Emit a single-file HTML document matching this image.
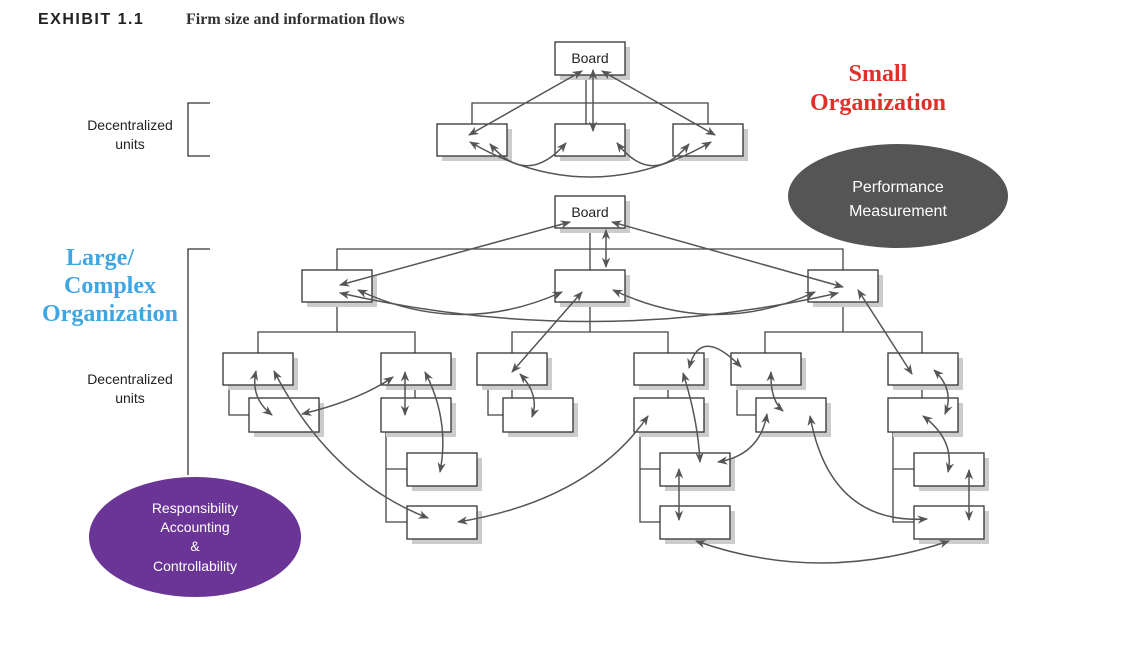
<!DOCTYPE html>
<html><head><meta charset="utf-8"><style>
body{margin:0;background:#fff;width:1126px;height:650px;overflow:hidden;font-family:"Liberation Sans",sans-serif}
</style></head><body>
<svg width="1126" height="650" xmlns="http://www.w3.org/2000/svg" font-family="Liberation Sans, sans-serif">
<defs>
<marker id="a" viewBox="0 0 10 10" refX="9" refY="5" markerWidth="7" markerHeight="7" orient="auto-start-reverse"><path d="M0,1 L10,5 L0,9 L3,5z" fill="#555"/></marker>
</defs>
<text x="38" y="24" font-size="16" font-weight="bold" fill="#222" letter-spacing="1.5">EXHIBIT 1.1</text>
<text x="186" y="24" font-size="16" font-weight="bold" font-family="Liberation Serif, serif" fill="#333">Firm size and information flows</text>

<g font-size="14" fill="#222" text-anchor="middle">
<text x="130" y="130">Decentralized</text><text x="130" y="149">units</text>
<text x="130" y="384">Decentralized</text><text x="130" y="403">units</text>
</g>
<g stroke="#333" stroke-width="1.3" fill="none">
<path d="M210,103 H188 V156 H210"/>
<path d="M210,249 H188 V475"/>
</g>
<g font-family="Liberation Serif, serif" font-weight="bold" font-size="24" text-anchor="middle">
<text x="878" y="81" fill="#e0302a">Small</text><text x="878" y="110" fill="#e0302a">Organization</text>
<text x="100" y="265" fill="#3ea6e3">Large/</text><text x="110" y="293" fill="#3ea6e3">Complex</text><text x="110" y="321" fill="#3ea6e3">Organization</text>
</g>
<ellipse cx="898" cy="196" rx="110" ry="52" fill="#555"/>
<text x="898" y="192" fill="#fff" font-size="16" text-anchor="middle">Performance</text>
<text x="898" y="216" fill="#fff" font-size="16" text-anchor="middle">Measurement</text>
<ellipse cx="195" cy="537" rx="106" ry="60" fill="#6a3597"/>
<g fill="#fff" font-size="14" text-anchor="middle">
<text x="195" y="513">Responsibility</text><text x="195" y="532">Accounting</text><text x="195" y="551">&amp;</text><text x="195" y="571">Controllability</text>
</g>

<g stroke="#444" stroke-width="1.3" fill="none">
<path d="M472,124 V103 H708 V124 M586,75 V124"/>
<path d="M337,270 V249 H843 V270 M590,228 V270"/>
<path d="M337,302 V332 M258,353 V332 H415 V353 M590,302 V332 M512,353 V332 H668 V353 M843,302 V332 M765,353 V332 H922 V353"/>
<path d="M229,385 V415 H249 M415,385 V398 M386,432 V522 H407 M386,469 H407 M512,385 V398 M488,385 V415 H503 M668,385 V398 M640,432 V522 H660 M640,469 H660 M737,385 V415 H756 M922,385 V398 M893,432 V522 H914 M893,469 H914"/>
</g>

<g fill="#ccc">
<rect x="560" y="47" width="70" height="33"/>
<rect x="442" y="129" width="70" height="32"/><rect x="560" y="129" width="70" height="32"/><rect x="678" y="129" width="70" height="32"/>
<rect x="560" y="201" width="70" height="32"/>
<rect x="307" y="275" width="70" height="32"/><rect x="560" y="275" width="70" height="32"/><rect x="813" y="275" width="70" height="32"/>
<rect x="228" y="358" width="70" height="32"/><rect x="386" y="358" width="70" height="32"/><rect x="482" y="358" width="70" height="32"/><rect x="639" y="358" width="70" height="32"/><rect x="736" y="358" width="70" height="32"/><rect x="893" y="358" width="70" height="32"/>
<rect x="254" y="403" width="70" height="34"/><rect x="386" y="403" width="70" height="34"/><rect x="508" y="403" width="70" height="34"/><rect x="639" y="403" width="70" height="34"/><rect x="761" y="403" width="70" height="34"/><rect x="893" y="403" width="70" height="34"/>
<rect x="412" y="458" width="70" height="33"/><rect x="665" y="458" width="70" height="33"/><rect x="919" y="458" width="70" height="33"/>
<rect x="412" y="511" width="70" height="33"/><rect x="665" y="511" width="70" height="33"/><rect x="919" y="511" width="70" height="33"/>
</g>
<g fill="#fff" stroke="#333" stroke-width="1.3">
<rect x="555" y="42" width="70" height="33"/>
<rect x="437" y="124" width="70" height="32"/><rect x="555" y="124" width="70" height="32"/><rect x="673" y="124" width="70" height="32"/>
<rect x="555" y="196" width="70" height="32"/>
<rect x="302" y="270" width="70" height="32"/><rect x="555" y="270" width="70" height="32"/><rect x="808" y="270" width="70" height="32"/>
<rect x="223" y="353" width="70" height="32"/><rect x="381" y="353" width="70" height="32"/><rect x="477" y="353" width="70" height="32"/><rect x="634" y="353" width="70" height="32"/><rect x="731" y="353" width="70" height="32"/><rect x="888" y="353" width="70" height="32"/>
<rect x="249" y="398" width="70" height="34"/><rect x="381" y="398" width="70" height="34"/><rect x="503" y="398" width="70" height="34"/><rect x="634" y="398" width="70" height="34"/><rect x="756" y="398" width="70" height="34"/><rect x="888" y="398" width="70" height="34"/>
<rect x="407" y="453" width="70" height="33"/><rect x="660" y="453" width="70" height="33"/><rect x="914" y="453" width="70" height="33"/>
<rect x="407" y="506" width="70" height="33"/><rect x="660" y="506" width="70" height="33"/><rect x="914" y="506" width="70" height="33"/>
</g>
<text x="590" y="63" font-size="14" text-anchor="middle" fill="#222">Board</text>
<text x="590" y="217" font-size="14" text-anchor="middle" fill="#222">Board</text>

<g stroke="#555" stroke-width="1.5" fill="none" marker-start="url(#a)" marker-end="url(#a)">
<path d="M582,71 L469,135"/>
<path d="M593,70 V131"/>
<path d="M602,71 L715,135"/>
<path d="M490,144 Q527,188 566,143"/>
<path d="M617,143 Q652,188 689,144"/>
<path d="M470,142 Q590,212 711,142"/>
<path d="M570,222 L340,285"/>
<path d="M612,222 L843,287"/>
<path d="M606,230 V267"/>
<path d="M358,290 Q460,338 562,292"/>
<path d="M340,293 Q590,350 838,293"/>
<path d="M613,290 Q715,338 815,292"/>
<path d="M582,292 L512,372"/>
<path d="M858,290 L912,374"/>
<path d="M256,371 Q250,398 272,415"/>
<path d="M274,371 Q330,480 428,518"/>
<path d="M302,414 Q360,400 393,377"/>
<path d="M405,372 V415"/>
<path d="M425,372 Q450,420 440,472"/>
<path d="M520,374 Q540,395 532,417"/>
<path d="M648,416 Q590,500 458,522"/>
<path d="M683,373 Q698,420 700,462"/>
<path d="M689,368 Q700,325 741,367"/>
<path d="M771,372 Q770,400 783,411"/>
<path d="M767,414 Q760,455 718,462"/>
<path d="M810,416 Q830,525 927,519"/>
<path d="M679,469 V520"/>
<path d="M696,541 Q820,585 949,541"/>
<path d="M934,370 Q955,390 945,414"/>
<path d="M923,416 Q955,440 948,472"/>
<path d="M969,470 V520"/>
</g>
</svg>
</body></html>
